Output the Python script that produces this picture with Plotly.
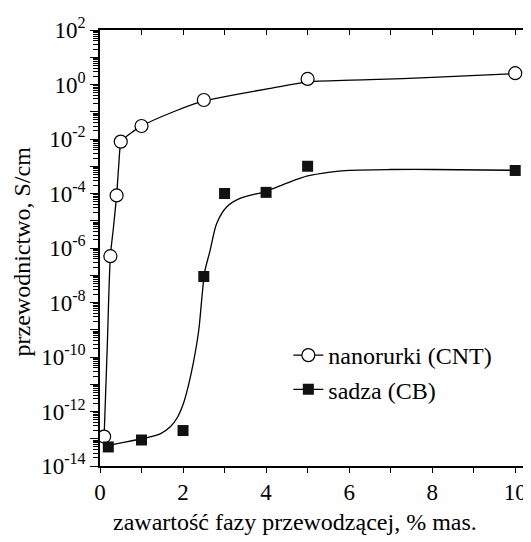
import plotly.graph_objects as go

# ---- data ----
cnt_x = [0.1, 0.25, 0.4, 0.5, 1.0, 2.5, 5.0, 10.0]
cnt_y = [1.2e-13, 5.0e-7, 8.5e-5, 8.0e-3, 3.0e-2, 2.7e-1, 1.6, 2.6]

cb_x = [0.2, 1.0, 2.0, 2.5, 3.0, 4.0, 5.0, 10.0]
cb_y = [5.0e-14, 9.0e-14, 2.0e-13, 9.0e-8, 1.0e-4, 1.1e-4, 1.0e-3, 7.0e-4]

# fitted curves
cnt_fit_x = [0.1, 0.175, 0.25, 0.32, 0.4, 0.45, 0.5, 0.6, 0.8, 1.0, 1.77, 2.5, 3.2, 4.1, 5.0, 6.5, 8.0, 10.0]
cnt_fit_y = [1.3e-13, 2.5e-10, 5.0e-7, 5.0e-6, 8.5e-5, 1.0e-3, 6.3e-3, 1.1e-2, 1.9e-2, 3.0e-2,
             0.10, 0.25, 0.41, 0.72, 1.23, 1.5, 1.82, 2.5]

cb_fit_x = [0.1, 0.2, 1.0, 1.45, 1.7, 1.87, 2.0, 2.12, 2.25, 2.38, 2.45, 2.52, 2.65, 2.81, 3.05,
            3.37, 4.0, 4.5, 5.0, 5.5, 6.0, 7.0, 8.0, 10.0]
cb_fit_y = [5.0e-14, 5.6e-14, 1.0e-13, 1.5e-13, 2.8e-13, 6.3e-13, 1.8e-12, 7.9e-12, 6.3e-11, 1.0e-9,
            1.3e-8, 1.3e-7, 7.9e-7, 7.9e-6, 3.2e-5, 6.6e-5, 1.2e-4, 2.4e-4, 4.4e-4, 6.0e-4, 7.1e-4,
            7.6e-4, 7.6e-4, 7.1e-4]

series_names = ["nanorurki (CNT)", "sadza (CB)"]
x_title = "zawartość fazy przewodzącej, % mas."
y_title = "przewodnictwo, S/cm"
y_exponents = list(range(-14, 3))
y_tickvals = [10.0 ** e for e in y_exponents]
y_ticktext = [f"10<sup>{e}</sup>" if e % 2 == 0 else "" for e in y_exponents]

FONT = "Liberation Serif, Times New Roman, Times, serif"
fig = go.Figure()

# fitted lines
fig.add_trace(go.Scatter(x=cnt_fit_x, y=cnt_fit_y, mode="lines", line=dict(color="black", width=1.3, shape="spline", smoothing=0.8),
                         showlegend=False, hoverinfo="skip"))
fig.add_trace(go.Scatter(x=cb_fit_x, y=cb_fit_y, mode="lines", line=dict(color="black", width=1.3, shape="spline", smoothing=0.8),
                         showlegend=False, hoverinfo="skip"))
# data points
fig.add_trace(go.Scatter(x=cnt_x, y=cnt_y, mode="markers", showlegend=False,
                         marker=dict(symbol="circle", size=13, color="white", line=dict(color="black", width=1.2))))
fig.add_trace(go.Scatter(x=cb_x, y=cb_y, mode="markers", showlegend=False,
                         marker=dict(symbol="square", size=11, color="#111111", line=dict(width=0))))
# legend entries
fig.add_trace(go.Scatter(x=[None], y=[None], mode="lines+markers", name=series_names[0],
                         line=dict(color="black", width=1.3),
                         marker=dict(symbol="circle", size=13, color="white", line=dict(color="black", width=1.2))))
fig.add_trace(go.Scatter(x=[None], y=[None], mode="lines+markers", name=series_names[1],
                         line=dict(color="black", width=1.3),
                         marker=dict(symbol="square", size=11, color="#111111", line=dict(width=0))))
# helper trace for the mirrored axes
fig.add_trace(go.Scatter(x=[None], y=[None], xaxis="x2", yaxis="y2", showlegend=False, hoverinfo="skip"))

xr = [0, 10.38]
yr = [-14, 2]
fig.update_layout(
    width=523, height=534,
    margin=dict(l=92, r=0, t=22, b=76),
    paper_bgcolor="white", plot_bgcolor="white",
    font=dict(family=FONT, size=22, color="black"),
    xaxis=dict(range=xr, dtick=2, tick0=0, ticks="outside", ticklen=5, tickwidth=1.2, tickcolor="black",
               showline=True, linecolor="black", linewidth=1.5, showgrid=False, zeroline=False,
               minor=dict(dtick=1, tick0=0, ticks="outside", ticklen=5, tickwidth=1.2, tickcolor="black", showgrid=False),
               tickfont=dict(family=FONT, size=23)),
    yaxis=dict(type="log", range=yr, tickmode="array", tickvals=y_tickvals, ticktext=y_ticktext,
               ticks="outside", ticklen=8, tickwidth=1.2, tickcolor="black",
               showline=True, linecolor="black", linewidth=1.5, showgrid=False, zeroline=False,
               minor=dict(dtick="D1", ticks="outside", ticklen=5, tickwidth=1, tickcolor="black", showgrid=False),
               tickfont=dict(family=FONT, size=23)),
    xaxis2=dict(range=xr, overlaying="x", side="top", dtick=1, tick0=0, ticks="inside", ticklen=5, tickwidth=1.2,
                tickcolor="black", showline=True, linecolor="black", linewidth=1.5, showgrid=False,
                zeroline=False, showticklabels=False),
    yaxis2=dict(type="log", range=yr, overlaying="y", side="right", dtick=1, ticks="inside", ticklen=4,
                tickwidth=1.2, tickcolor="black", showline=True, linecolor="black", linewidth=1.5,
                showgrid=False, zeroline=False, showticklabels=False),
    legend=dict(x=0.437, y=0.305, xanchor="left", yanchor="top", bgcolor="rgba(0,0,0,0)",
                font=dict(family=FONT, size=24), borderwidth=0),
    annotations=[
        dict(text=x_title, xref="paper", yref="paper", x=0.453, y=-0.128, xanchor="center", yanchor="middle",
             showarrow=False, font=dict(family=FONT, size=24)),
        dict(text=y_title, xref="paper", yref="paper", x=-0.18, y=0.493, xanchor="center", yanchor="middle",
             textangle=-90, showarrow=False, font=dict(family=FONT, size=24)),
    ],
)

fig.write_html("out.html")
